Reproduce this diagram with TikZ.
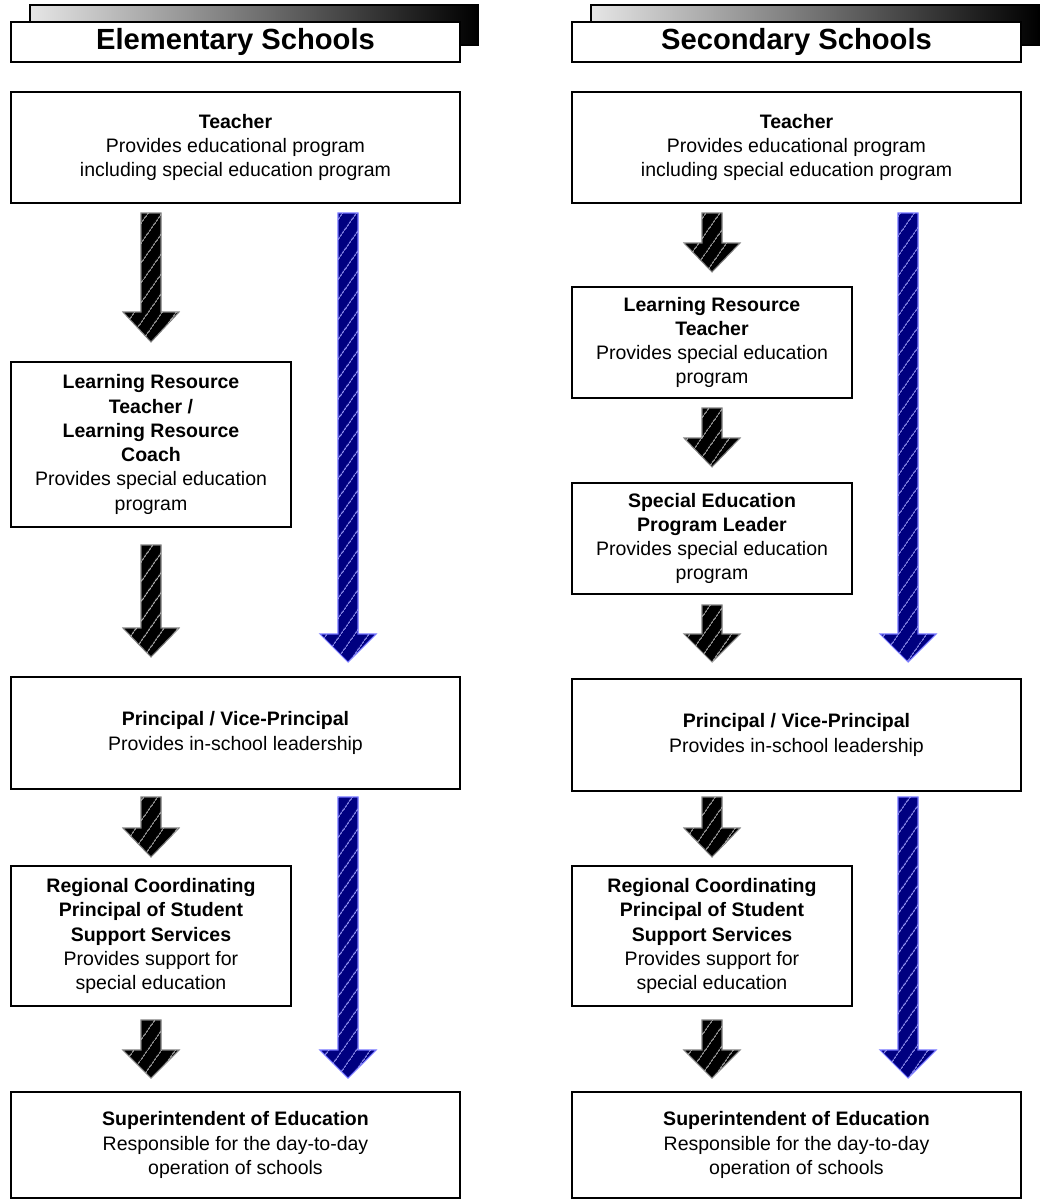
\documentclass[tikz,border=0pt]{standalone}
\usepackage{fontspec}
\setmainfont{Liberation Sans}
\usetikzlibrary{patterns.meta}

\tikzset{
  box/.style={draw, line width=0.8pt, align=center, inner sep=0pt,
    font=\fontsize{11.1}{13.8}\selectfont},
  widebox/.style={box, minimum width=8.98cm},
  narrowbox/.style={box, minimum width=5.6cm},
  headbox/.style={draw, line width=0.8pt, fill=white, minimum width=8.98cm,
    minimum height=0.8cm, font=\fontsize{16.6}{18}\selectfont\bfseries},
  blackarrow/.style={fill=black, draw=gray, line width=0.6pt,
    postaction={pattern={Lines[angle=55,distance=6.5pt,line width=0.5pt]}, pattern color=gray!55}},
  bluearrow/.style={fill=blue!50!black, draw=blue!55, line width=0.6pt,
    postaction={pattern={Lines[angle=55,distance=6.5pt,line width=0.5pt]}, pattern color=blue!40!white}},
}
% striped block arrow: style, x, top, head start, tip
\newcommand{\hatcharrow}[5]{%
  \path[#1] (#2-10,#3) -- (#2+10,#3) -- (#2+10,#4) -- (#2+28,#4) -- (#2,#5)
    -- (#2-28,#4) -- (#2-10,#4) -- cycle;}

\begin{document}
\begin{tikzpicture}[x=0.02cm,y=-0.02cm]
  \useasboundingbox (0,0) rectangle (1043,1200);

  % headers
  \shade[left color=gray!20, right color=black, draw=black, line width=0.8pt] (30,5) rectangle (478,45);
  \node[headbox] (elemhead) at (235.5,42) {Elementary Schools};
  \shade[left color=gray!20, right color=black, draw=black, line width=0.8pt] (591,5) rectangle (1039,45);
  \node[headbox] (sechead) at (796.5,42) {Secondary Schools};

  % elementary column
  \node[widebox, minimum height=2.22cm] (teach1) at (235.5,147.5)
    {\textbf{Teacher}\\Provides educational program\\including special education program};
  \node[narrowbox, minimum height=3.3cm] (lrt1) at (151,444.5)
    {\textbf{Learning Resource}\\\textbf{Teacher /}\\\textbf{Learning Resource}\\\textbf{Coach}\\Provides special education\\program};
  \node[widebox, minimum height=2.24cm] (prin1) at (235.5,733)
    {\textbf{Principal / Vice-Principal}\\Provides in-school leadership};
  \node[narrowbox, minimum height=2.8cm] (reg1) at (151,936)
    {\textbf{Regional Coordinating}\\\textbf{Principal of Student}\\\textbf{Support Services}\\Provides support for\\special education};
  \node[widebox, minimum height=2.12cm] (sup1) at (235.5,1145)
    {\textbf{Superintendent of Education}\\Responsible for the day-to-day\\operation of schools};

  \hatcharrow{blackarrow}{151}{213}{312}{342}
  \hatcharrow{blackarrow}{151}{545}{628}{657}
  \hatcharrow{blackarrow}{151}{797}{828}{857}
  \hatcharrow{blackarrow}{151}{1020}{1050}{1078}
  \hatcharrow{bluearrow}{348}{213}{634}{662}
  \hatcharrow{bluearrow}{348}{797}{1050}{1078}

  % secondary column
  \node[widebox, minimum height=2.22cm] (teach2) at (796.5,147.5)
    {\textbf{Teacher}\\Provides educational program\\including special education program};
  \node[narrowbox, minimum height=2.22cm] (lrt2) at (712,342.5)
    {\textbf{Learning Resource}\\\textbf{Teacher}\\Provides special education\\program};
  \node[narrowbox, minimum height=2.22cm] (sepl2) at (712,538.5)
    {\textbf{Special Education}\\\textbf{Program Leader}\\Provides special education\\program};
  \node[widebox, minimum height=2.24cm] (prin2) at (796.5,735)
    {\textbf{Principal / Vice-Principal}\\Provides in-school leadership};
  \node[narrowbox, minimum height=2.8cm] (reg2) at (712,936)
    {\textbf{Regional Coordinating}\\\textbf{Principal of Student}\\\textbf{Support Services}\\Provides support for\\special education};
  \node[widebox, minimum height=2.12cm] (sup2) at (796.5,1145)
    {\textbf{Superintendent of Education}\\Responsible for the day-to-day\\operation of schools};

  \hatcharrow{blackarrow}{712}{213}{243}{272}
  \hatcharrow{blackarrow}{712}{408}{438}{467}
  \hatcharrow{blackarrow}{712}{605}{634}{662}
  \hatcharrow{blackarrow}{712}{797}{828}{857}
  \hatcharrow{blackarrow}{712}{1020}{1050}{1078}
  \hatcharrow{bluearrow}{908}{213}{634}{662}
  \hatcharrow{bluearrow}{908}{797}{1050}{1078}
\end{tikzpicture}
\end{document}
